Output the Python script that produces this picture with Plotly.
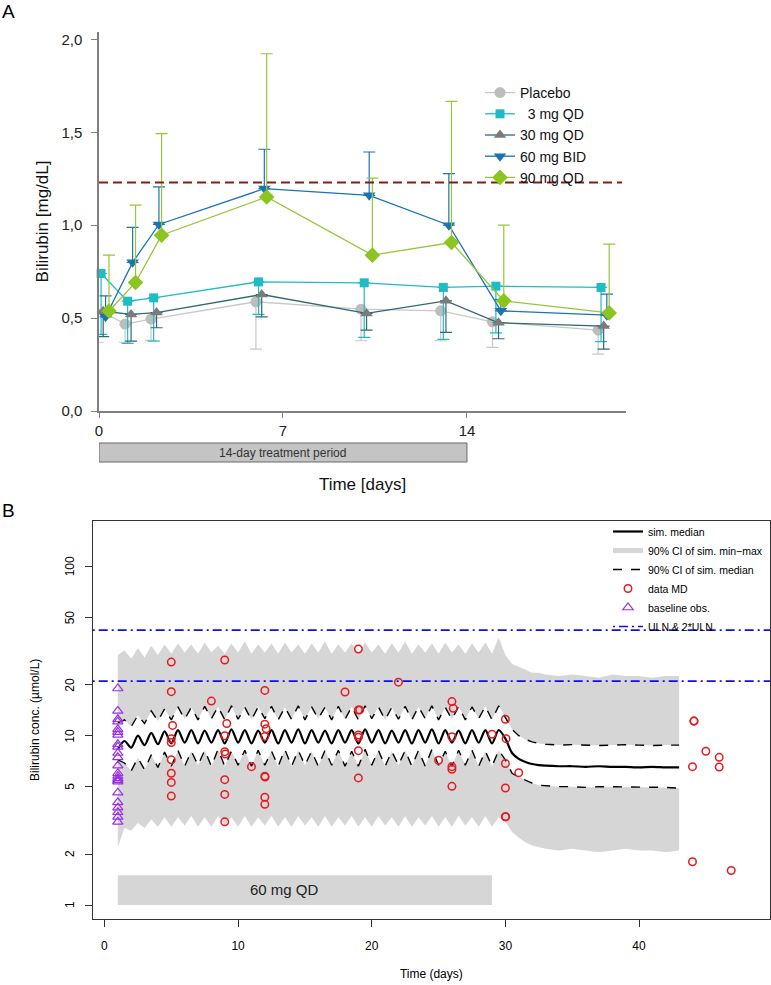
import plotly.graph_objects as go
import math

# ---------------- Panel A data (bilirubin, mg/dL) ----------------
a_days_placebo = [-0.05, 0.99, 1.98, 5.97, 9.97, 13.0, 14.97, 18.99]
a_placebo = [0.547, 0.468, 0.495, 0.588, 0.548, 0.539, 0.480, 0.435]
a_placebo_low = [0.370, 0.370, 0.380, 0.333, 0.378, 0.378, 0.342, 0.306]

a_days_3mg = [0.08, 1.09, 2.08, 6.07, 10.09, 13.10, 15.10, 19.10]
a_3mg = [0.740, 0.591, 0.609, 0.695, 0.690, 0.665, 0.672, 0.665]
a_3mg_low = [0.412, 0.364, 0.376, 0.520, 0.396, 0.385, 0.420, 0.373]

a_days_30mg = [0.16, 1.22, 2.19, 6.19, 10.18, 13.20, 15.20, 19.20]
a_30mg = [0.537, 0.520, 0.530, 0.627, 0.525, 0.593, 0.475, 0.457]
a_30mg_low = [0.400, 0.376, 0.448, 0.507, 0.435, 0.423, 0.389, 0.333]

a_days_60mg = [0.25, 1.28, 2.28, 6.29, 10.28, 13.31, 15.29, 19.32]
a_60mg = [0.507, 0.800, 1.004, 1.197, 1.161, 1.000, 0.539, 0.516]
a_60mg_high = [0.620, 0.988, 1.206, 1.409, 1.394, 1.278, 0.600, 0.629]

a_days_90mg = [0.38, 1.39, 2.38, 6.38, 10.40, 13.41, 15.40, 19.41]
a_90mg = [0.538, 0.692, 0.946, 1.152, 0.839, 0.907, 0.593, 0.528]
a_90mg_high = [0.839, 1.108, 1.493, 1.923, 1.254, 1.667, 1.000, 0.898]

a_uln_mgdl = 1.23
a_uln_span = [0, 19.9]
a_treatment = [0, 14]
a_xticks = [0, 7, 14]
a_yticks = [0, 0.5, 1.0, 1.5, 2.0]
a_yticktext = ["0,0", "0,5", "1,0", "1,5", "2,0"]

# ---------------- Panel B data (bilirubin, umol/L) ----------------
t_sim = [1.0, 1.5, 2.0, 2.5, 3.0, 3.5, 4.0, 4.5, 5.0, 5.5,
         6.0, 6.5, 7.0, 7.5, 8.0, 8.5, 9.0, 9.5, 10.0, 10.5,
         11.0, 11.5, 12.0, 12.5, 13.0, 13.5, 14.0, 14.5, 15.0, 15.5,
         16.0, 16.5, 17.0, 17.5, 18.0, 18.5, 19.0, 19.5, 20.0, 20.5,
         21.0, 21.5, 22.0, 22.5, 23.0, 23.5, 24.0, 24.5, 25.0, 25.5,
         26.0, 26.5, 27.0, 27.5, 28.0, 28.5, 29.0, 29.5, 30.0,
         30.5, 31.0, 31.5, 32.0, 32.5,
         33.0, 34.0, 35.0, 36.0, 37.0, 38.0, 39.0, 40.0, 41.0, 42.0, 43.0]

sim_median = [8.3, 9.3, 8.5, 10.0, 8.8, 10.4, 8.9, 10.6, 9.0, 10.8,
              9.1, 10.8, 9.0, 10.7, 9.1, 10.8, 9.0, 10.9, 9.1, 10.8,
              9.0, 10.7, 9.1, 10.8, 9.0, 10.8, 9.1, 10.9, 9.0, 10.8,
              9.1, 10.7, 9.0, 10.8, 9.1, 10.8, 9.0, 10.9, 9.1, 10.8,
              9.0, 10.7, 9.1, 10.8, 9.0, 10.8, 9.1, 10.9, 9.0, 10.8,
              9.1, 10.7, 9.0, 10.8, 9.1, 10.8, 9.0, 10.8, 9.6,
              7.9, 7.3, 7.0, 6.8, 6.7,
              6.65, 6.6, 6.6, 6.55, 6.6, 6.55, 6.55, 6.5, 6.55, 6.5, 6.5]

sim_hi_median = [11.9, 12.4, 11.3, 13.2, 11.8, 14.0, 12.2, 14.4, 12.4, 14.8,
                 12.5, 14.7, 12.4, 14.9, 12.6, 14.8, 12.4, 15.0, 12.5, 14.7,
                 12.4, 14.8, 12.6, 14.9, 12.4, 14.7, 12.5, 15.0, 12.4, 14.8,
                 12.6, 14.7, 12.4, 14.9, 12.5, 14.8, 12.4, 15.0, 12.6, 14.8,
                 12.4, 14.7, 12.5, 14.9, 12.4, 14.8, 12.6, 15.0, 12.4, 14.7,
                 12.5, 14.9, 12.4, 14.8, 12.6, 14.9, 12.4, 15.0, 12.8,
                 10.9, 10.0, 9.5, 9.2, 9.0,
                 8.9, 8.8, 8.85, 8.8, 8.75, 8.8, 8.85, 8.8, 8.75, 8.8, 8.8]

sim_lo_median = [7.2, 6.9, 6.2, 7.4, 6.3, 7.7, 6.5, 8.0, 6.6, 8.2,
                 6.6, 8.1, 6.7, 8.2, 6.6, 8.3, 6.6, 8.1, 6.7, 8.2,
                 6.6, 8.2, 6.7, 8.1, 6.6, 8.3, 6.6, 8.2, 6.7, 8.1,
                 6.6, 8.2, 6.7, 8.2, 6.6, 8.1, 6.6, 8.3, 6.7, 8.2,
                 6.6, 8.1, 6.7, 8.2, 6.6, 8.2, 6.6, 8.3, 6.7, 8.1,
                 6.6, 8.2, 6.7, 8.2, 6.6, 8.1, 6.6, 8.2, 7.2,
                 6.0, 5.7, 5.45, 5.25, 5.1,
                 5.05, 5.0, 5.0, 4.95, 5.0, 5.0, 4.95, 5.0, 4.95, 4.95, 4.9]

sim_band_max = [30.0, 32.0, 28.5, 33.0, 29.0, 34.0, 30.0, 34.5, 30.5, 35.0,
                31.0, 34.5, 30.5, 35.5, 31.0, 34.0, 30.5, 35.0, 31.0, 36.0,
                30.5, 34.5, 31.0, 35.0, 30.5, 35.5, 31.0, 34.5, 30.5, 35.0,
                31.0, 36.0, 30.5, 34.5, 31.0, 35.0, 30.5, 35.5, 31.0, 34.5,
                30.5, 35.0, 31.0, 36.0, 30.5, 34.5, 31.0, 35.0, 30.5, 35.5,
                31.0, 34.5, 30.5, 35.0, 31.0, 35.5, 30.5, 38.0, 30.0,
                26.5, 25.5, 24.5, 23.5, 23.5,
                23.0, 22.5, 23.0, 22.5, 22.0, 23.0, 22.5, 22.5, 22.0, 22.5, 22.5]

sim_band_min = [2.2, 2.85, 2.75, 3.05, 2.85, 3.2, 2.9, 3.3, 2.9, 3.3,
                2.95, 3.35, 2.9, 3.3, 2.9, 3.35, 2.95, 3.3, 2.9, 3.35,
                2.9, 3.3, 2.95, 3.35, 2.9, 3.3, 2.9, 3.35, 2.95, 3.3,
                2.9, 3.35, 2.9, 3.3, 2.95, 3.35, 2.9, 3.3, 2.9, 3.35,
                2.95, 3.3, 2.9, 3.35, 2.9, 3.3, 2.95, 3.35, 2.9, 3.3,
                2.9, 3.35, 2.95, 3.3, 2.9, 3.35, 2.9, 3.3, 3.1,
                2.7, 2.5, 2.35, 2.25, 2.2,
                2.15, 2.1, 2.15, 2.1, 2.05, 2.1, 2.15, 2.1, 2.1, 2.05, 2.1]

obs_days = [5.0, 5.0, 5.1, 5.0, 5.0, 5.0, 5.0, 5.0, 5.0,
            8.0,
            9.0, 9.15, 9.0, 9.0, 9.05, 9.0, 9.0, 9.0,
            11.0,
            12.0, 12.0, 12.1, 12.0, 12.0, 12.02, 12.0, 12.0,
            18.0,
            19.0, 19.0, 19.1, 19.0, 19.0, 19.0, 19.0,
            22.0, 25.0,
            26.0, 26.1, 26.0, 26.0, 26.0, 26.0,
            29.0,
            30.0, 30.05, 30.0, 30.0, 30.0, 30.02,
            31.0,
            44.1, 44.12, 44.0, 44.0, 45.0, 46.0, 46.0, 46.9]
obs_conc = [27.2, 18.2, 11.5, 9.6, 9.1, 7.2, 6.0, 5.3, 4.4,
            16.0,
            28.0, 11.8, 10.0, 8.05, 7.8, 5.5, 4.5, 3.1,
            6.56,
            18.5, 11.7, 11.0, 9.9, 5.76, 5.7, 4.33, 3.93,
            18.1,
            32.5, 14.2, 14.2, 10.1, 9.8, 8.16, 5.63,
            20.7, 7.16,
            15.9, 14.5, 9.86, 6.56, 6.33, 5.02,
            10.2,
            12.5, 9.6, 6.85, 4.91, 3.32, 3.32,
            6.04,
            12.2, 12.2, 6.56, 1.80, 8.09, 7.45, 6.53, 1.60]

baseline_days = [1.0] * 23
baseline_conc = [19.0, 14.0, 12.5, 12.1, 10.9, 10.5, 10.1, 8.9, 8.6, 7.9,
                 7.45, 6.65, 6.0, 5.78, 5.6, 5.47, 5.35, 4.61, 4.04, 3.76,
                 3.53, 3.32, 3.1]

uln_levels = [21.0, 42.0]
b_treatment_days = [1, 29]
b_treatment_conc = [1.0, 1.5]
b_xticks = [0, 10, 20, 30, 40]
b_yticks = [1, 2, 5, 10, 20, 50, 100]

# ---------------- styling ----------------
FONT = "Liberation Sans, Arial, sans-serif"
W, H = 771, 985

def px_x(p):
    return p / W

def px_y(p):
    return 1 - p / H

c_placebo = "#BDBDBD"
c_3mg = "#1FBCC6"
c_30mg_m = "#7B7B7B"
c_30mg_l = "#2E6A72"
c_60mg = "#1B74B2"
c_90mg = "#8CC51F"

fig = go.Figure()

def add_group(name, xs, ys, lows, highs, mcolor, lcolor, symbol, msize):
    if lows is not None:
        err = dict(type="data", symmetric=False,
                   array=[0] * len(ys),
                   arrayminus=[y - l for y, l in zip(ys, lows)],
                   color=lcolor, thickness=1.2, width=6)
    else:
        err = dict(type="data", symmetric=False,
                   array=[h - y for y, h in zip(ys, highs)],
                   arrayminus=[0] * len(ys),
                   color=lcolor, thickness=1.2, width=6)
    fig.add_trace(go.Scatter(
        x=xs, y=ys, name=name, mode="lines+markers",
        line=dict(color=lcolor, width=1.3),
        marker=dict(color=mcolor, symbol=symbol, size=msize, line=dict(width=0)),
        error_y=err, cliponaxis=False, xaxis="x", yaxis="y", legend="legend"))

add_group("Placebo", a_days_placebo, a_placebo, a_placebo_low, None, c_placebo, "#C8C8C8", "circle", 11)
add_group("\u00a0\u00a03 mg QD", a_days_3mg, a_3mg, a_3mg_low, None, c_3mg, c_3mg, "square", 9)
add_group("30 mg QD", a_days_30mg, a_30mg, a_30mg_low, None, c_30mg_m, c_30mg_l, "triangle-up", 11)
add_group("60 mg BID", a_days_60mg, a_60mg, None, a_60mg_high, c_60mg, c_60mg, "triangle-down", 11)
add_group("90 mg QD", a_days_90mg, a_90mg, None, a_90mg_high, c_90mg, "#98C63A", "diamond", 12)

# ---------------- Panel B traces ----------------
band_col = "#D6D6D6"
fig.add_trace(go.Scatter(x=t_sim, y=sim_band_min, mode="lines", line=dict(width=0),
                         showlegend=False, hoverinfo="skip", xaxis="x2", yaxis="y2"))
fig.add_trace(go.Scatter(x=t_sim, y=sim_lo_median, mode="lines", line=dict(width=0),
                         fill="tonexty", fillcolor=band_col, showlegend=False,
                         hoverinfo="skip", xaxis="x2", yaxis="y2"))
fig.add_trace(go.Scatter(x=t_sim, y=sim_hi_median, mode="lines", line=dict(width=0),
                         showlegend=False, hoverinfo="skip", xaxis="x2", yaxis="y2"))
fig.add_trace(go.Scatter(x=t_sim, y=sim_band_max, mode="lines", line=dict(width=0),
                         fill="tonexty", fillcolor=band_col, showlegend=False,
                         hoverinfo="skip", xaxis="x2", yaxis="y2"))

fig.add_trace(go.Scatter(x=t_sim, y=sim_median, mode="lines", name="sim. median",
                         line=dict(color="black", width=2.2, shape="spline", smoothing=0.8),
                         xaxis="x2", yaxis="y2", legend="legend2"))
fig.add_trace(go.Scatter(x=[None], y=[None], mode="lines", name="90% CI of sim. min\u2212max",
                         line=dict(color=band_col, width=5),
                         xaxis="x2", yaxis="y2", legend="legend2"))
fig.add_trace(go.Scatter(x=t_sim, y=sim_hi_median, mode="lines", name="90% CI of sim. median",
                         line=dict(color="black", width=1.4, dash="dash"),
                         xaxis="x2", yaxis="y2", legend="legend2"))
fig.add_trace(go.Scatter(x=t_sim, y=sim_lo_median, mode="lines", showlegend=False,
                         line=dict(color="black", width=1.4, dash="dash"),
                         xaxis="x2", yaxis="y2", legend="legend2"))
fig.add_trace(go.Scatter(x=obs_days, y=obs_conc, mode="markers", name="data MD",
                         marker=dict(symbol="circle-open", color="#E8191C", size=7.5,
                                     line=dict(width=1.5, color="#E8191C")),
                         xaxis="x2", yaxis="y2", legend="legend2"))
fig.add_trace(go.Scatter(x=baseline_days, y=baseline_conc, mode="markers", name="baseline obs.",
                         marker=dict(symbol="triangle-up-open", color="#9B30E6", size=9,
                                     line=dict(width=1.2, color="#9B30E6")),
                         xaxis="x2", yaxis="y2", legend="legend2"))

for i, lvl in enumerate(uln_levels):
    fig.add_shape(type="line", xref="x2 domain", x0=0, x1=1, yref="y2", y0=lvl, y1=lvl,
                  line=dict(color="#1010E8", width=1.6, dash="2px,4px,9px,4px"),
                  showlegend=(i == 0), name="ULN & 2*ULN", legend="legend2",
                  legendrank=2000, layer="above")

# treatment bars
fig.add_shape(type="rect", xref="x", yref="paper", x0=a_treatment[0], x1=a_treatment[1],
              y0=px_y(462), y1=px_y(443), fillcolor="#C4C4C4",
              line=dict(color="#6A6A6A", width=1), layer="below")
fig.add_annotation(x=sum(a_treatment) / 2, xref="x", y=px_y(452.5), yref="paper",
                   text="14-day treatment period", showarrow=False,
                   font=dict(family=FONT, size=12, color="#333333"))
fig.add_shape(type="rect", xref="x2", yref="y2", x0=b_treatment_days[0], x1=b_treatment_days[1],
              y0=b_treatment_conc[0], y1=b_treatment_conc[1], fillcolor="#D6D6D6",
              line=dict(width=0), layer="below")
fig.add_annotation(x=13.5, xref="x2", y=math.log10(1.23), yref="y2", text="60 mg QD",
                   showarrow=False, font=dict(family=FONT, size=15, color="#222222"))

# rotated y tick labels of panel B (R style, parallel to the axis)
for v in b_yticks:
    fig.add_annotation(x=px_x(70), xref="paper", y=math.log10(v), yref="y2", text=str(v),
                       textangle=-90, showarrow=False, xanchor="center", yanchor="middle",
                       font=dict(family=FONT, size=12, color="black"))

# reference line in panel A
fig.add_shape(type="line", xref="x", yref="y", x0=a_uln_span[0], x1=a_uln_span[1],
              y0=a_uln_mgdl, y1=a_uln_mgdl,
              line=dict(color="#8B1A1A", width=2, dash="9px,5px"), layer="above")

# panel labels
fig.add_annotation(x=0.0, y=px_y(12), xref="paper", yref="paper", text="A", showarrow=False,
                   xanchor="left", yanchor="middle", font=dict(family=FONT, size=19, color="black"))
fig.add_annotation(x=0.0, y=px_y(511), xref="paper", yref="paper", text="B", showarrow=False,
                   xanchor="left", yanchor="middle", font=dict(family=FONT, size=19, color="black"))

axis_gray = "#7F7F7F"
fig.update_layout(
    template="none",
    width=W, height=H,
    margin=dict(l=0, r=0, t=0, b=0, autoexpand=False),
    paper_bgcolor="white", plot_bgcolor="white",
    font=dict(family=FONT, color="black"),
    showlegend=True,
    xaxis=dict(domain=[px_x(99), px_x(626)], range=[0, 20.05], anchor="y",
               tickvals=a_xticks, ticks="outside", ticklen=5, tickwidth=1.3, tickcolor=axis_gray,
               showline=True, linecolor=axis_gray, linewidth=1.5, showgrid=False, zeroline=False,
               tickfont=dict(size=15, color="#222222"), automargin=False,
               title=dict(text="Time [days]", font=dict(size=17, color="#111111"), standoff=40)),
    yaxis=dict(domain=[px_y(411), px_y(32)], range=[0, 2.04], anchor="x",
               tickvals=a_yticks, ticktext=a_yticktext, ticks="outside", ticklen=6, tickwidth=1.3,
               tickcolor=axis_gray, showline=True, linecolor=axis_gray, linewidth=1.5,
               showgrid=False, zeroline=False, ticklabelstandoff=6,
               tickfont=dict(size=15, color="#222222"), automargin=False,
               title=dict(text="Bilirubin [mg/dL]", font=dict(size=17, color="#111111"), standoff=8)),
    xaxis2=dict(domain=[px_x(92.7), px_x(770)], range=[-0.88, 49.8], anchor="y2",
                tickvals=b_xticks, ticks="outside", ticklen=7, tickwidth=1, tickcolor="#333333",
                showline=True, mirror=True, linecolor="#333333", linewidth=1.2,
                showgrid=False, zeroline=False, tickfont=dict(size=12, color="black"),
                ticklabelstandoff=8, automargin=False,
                title=dict(text="Time (days)", font=dict(size=12), standoff=18)),
    yaxis2=dict(domain=[px_y(919), px_y(520.7)], type="log",
                range=[math.log10(0.827), math.log10(186)], anchor="x2",
                tickvals=b_yticks, showticklabels=False,
                ticks="outside", ticklen=7, tickwidth=1, tickcolor="#333333",
                showline=True, mirror=True, linecolor="#333333", linewidth=1.2,
                showgrid=False, zeroline=False, automargin=False,
                title=dict(text="Bilirubin conc. (\u00b5mol/L)", font=dict(size=12), standoff=42)),
    legend=dict(x=px_x(480), y=px_y(77), xanchor="left", yanchor="top",
                bgcolor="rgba(0,0,0,0)", font=dict(size=14, color="#111111"),
                itemwidth=30, tracegroupgap=0, traceorder="normal"),
    legend2=dict(x=px_x(608), y=px_y(517), xanchor="left", yanchor="top",
                 bgcolor="rgba(0,0,0,0)", font=dict(size=10.5, color="black"),
                 itemwidth=30, tracegroupgap=0, traceorder="normal"),
)

fig.write_html("out.html", config={"displayModeBar": False},
               post_script="document.body.style.margin='0px';")
